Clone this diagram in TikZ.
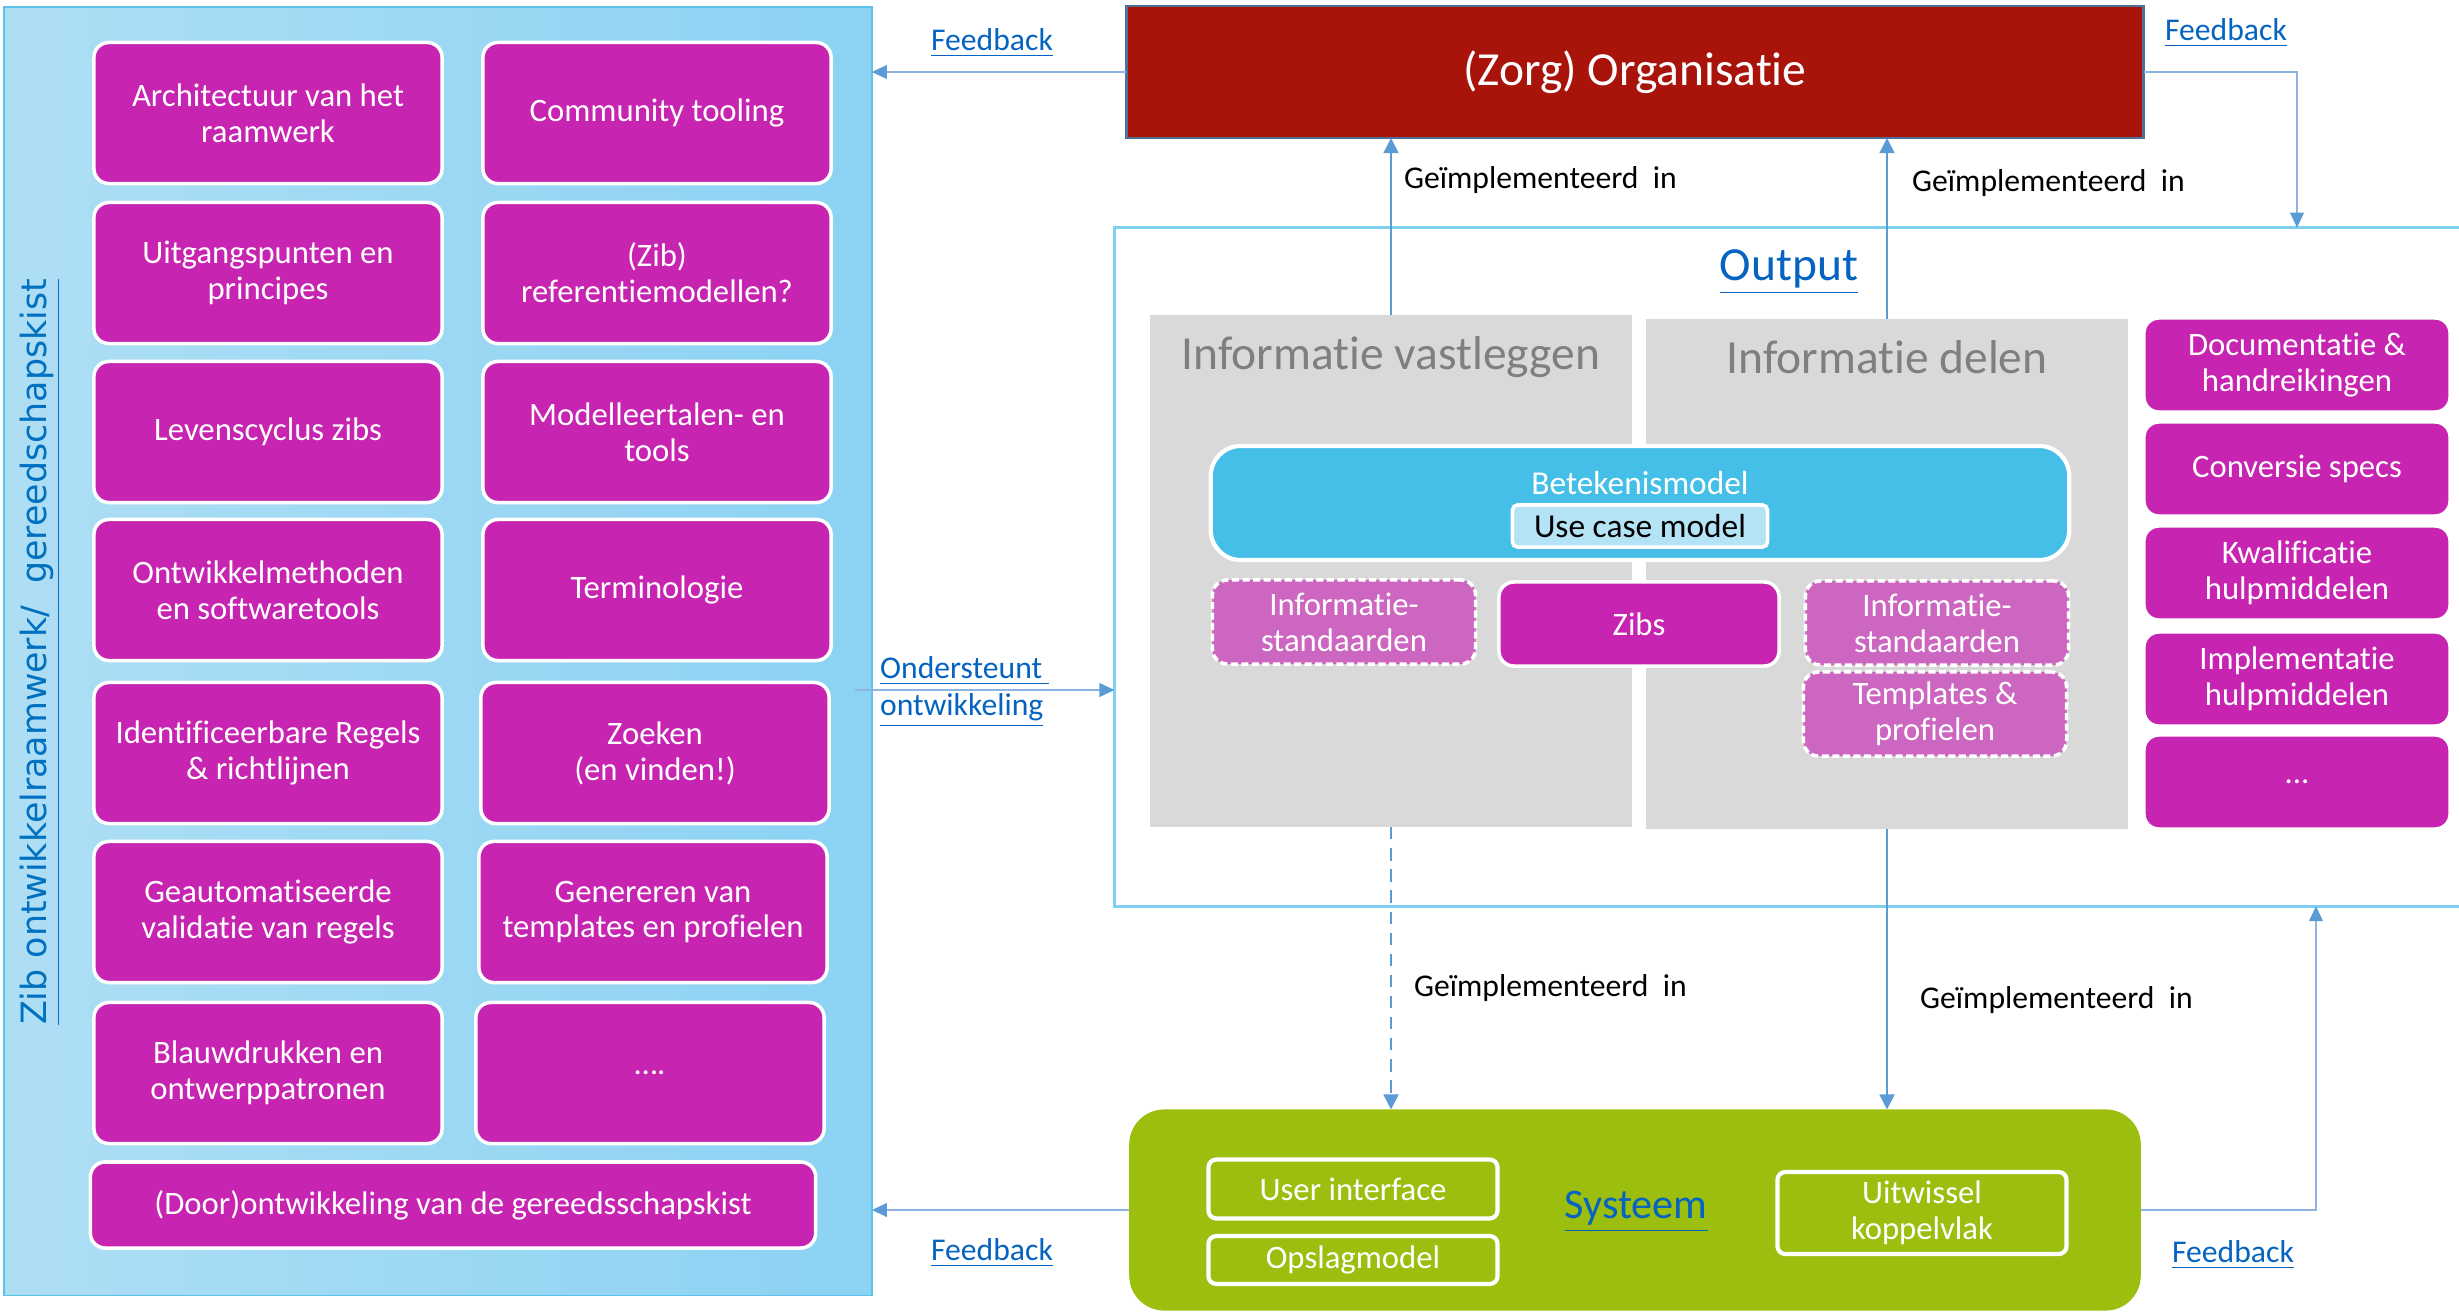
\documentclass[tikz,border=0pt]{standalone}
\usepackage{fontspec}
\setmainfont{Carlito}[Ligatures=NoCommon]
\newfontfamily\kistfont{DejaVu Sans}
\usetikzlibrary{arrows.meta}

\definecolor{zibpink}{HTML}{C724B1}
\definecolor{zibpinklight}{HTML}{CC66C0}
\definecolor{orgred}{HTML}{A8140A}
\definecolor{orgborder}{HTML}{4F6F95}
\definecolor{bmblue}{HTML}{45BFE8}
\definecolor{ucblue}{HTML}{B4E3F5}
\definecolor{panelgrey}{HTML}{D9D9D9}
\definecolor{paneltext}{HTML}{7F7F7F}
\definecolor{sysgreen}{HTML}{9BBE0F}
\definecolor{linkblue}{HTML}{0563C1}
\definecolor{titleblue}{HTML}{0070C0}
\definecolor{lineblue}{HTML}{8DB4E2}
\definecolor{tipblue}{HTML}{5B9BD5}
\definecolor{framecyan}{HTML}{7ED0F0}
\definecolor{kistleft}{HTML}{AEDEF4}
\definecolor{kistright}{HTML}{8BD2F3}
\definecolor{kistborder}{HTML}{5BC3EB}

\tikzset{
  tool/.style={draw=white, line width=1pt, fill=zibpink, rounded corners=0.15cm,
    text=white, align=center, inner sep=1pt, outer sep=0pt,
    minimum width=3.48cm, minimum height=1.41cm,
    font=\fontsize{9.3}{10.2}\selectfont},
  outbox/.style={tool, minimum width=3.06cm, minimum height=0.94cm},
  dashbox/.style={tool, fill=zibpinklight, dashed, dash pattern=on 2pt off 1pt,
    minimum width=2.63cm, minimum height=0.84cm},
  panel/.style={fill=panelgrey, inner sep=0pt, outer sep=0pt},
  paneltitle/.style={text=paneltext, font=\fontsize{13.5}{15}\selectfont},
  sysbox/.style={draw=white, line width=1.2pt, rounded corners=0.08cm, text=white,
    align=center, inner sep=1pt, minimum width=2.89cm,
    font=\fontsize{9.3}{10.2}\selectfont},
  link/.style={text=linkblue, font=\fontsize{9}{10.5}\selectfont, inner sep=1pt},
  impltxt/.style={text=black, font=\fontsize{9}{10.5}\selectfont, anchor=west, inner sep=1pt},
  fbline/.style={draw=lineblue, line width=0.75pt,
    -{Triangle[length=4.3pt, width=3.8pt, color=tipblue]}},
  implline/.style={draw=tipblue, line width=0.5pt,
    -{Triangle[length=4.3pt, width=4.3pt]}}
}

\begin{document}
\begin{tikzpicture}[x=0.01cm, y=-0.01cm]
  \useasboundingbox (0,0) rectangle (2459,1311);

  % gereedschapskist
  \node[draw=kistborder, line width=0.5pt, left color=kistleft, right color=kistright,
    minimum width=8.67cm, minimum height=12.88cm, inner sep=0pt, outer sep=0pt] (kist) at (438,651) {};
  \node[rotate=90, text=titleblue, font=\kistfont\fontsize{9.9}{12}\selectfont] (kisttitel) at (40,652)
    {\underline{Zib ontwikkelraamwerk/\ \ gereedschapskist}};

  \node[tool] (arch) at (268,113) {Architectuur van het\\raamwerk};
  \node[tool] (comm) at (657,113) {Community tooling};
  \node[tool] (uitg) at (268,273) {Uitgangspunten en\\principes};
  \node[tool] (refm) at (657,273) {(Zib)\\referentiemodellen?};
  \node[tool] (leven) at (268,432) {Levenscyclus zibs};
  \node[tool] (mtaal) at (657,432) {Modelleertalen- en\\tools};
  \node[tool] (ontw) at (268,590) {Ontwikkelmethoden\\en softwaretools};
  \node[tool] (term) at (657,590) {Terminologie};
  \node[tool] (regels) at (268,753) {Identificeerbare Regels\\\& richtlijnen};
  \node[tool] (zoek) at (655,753) {Zoeken\\(en vinden!)};
  \node[tool] (valid) at (268,912) {Geautomatiseerde\\validatie van regels};
  \node[tool] (genr) at (653,912) {Genereren van\\templates en profielen};
  \node[tool] (blauw) at (268,1073) {Blauwdrukken en\\ontwerppatronen};
  \node[tool] (meer) at (650,1073) {….};
  \node[tool, minimum width=7.25cm, minimum height=0.86cm] (door) at (453,1205)
    {(Door)ontwikkeling van de gereedsschapskist};

  % organisatie
  \node[draw=orgborder, line width=0.8pt, fill=orgred, text=white,
    minimum width=10.17cm, minimum height=1.32cm, outer sep=0pt,
    font=\fontsize{13.5}{15}\selectfont] (org) at (1635,72) {(Zorg) Organisatie};

  % output
  \node[minimum width=13.44cm, minimum height=6.78cm, inner sep=0pt, outer sep=0pt] (output) at (1787,567) {};
  \draw[framecyan, line width=0.8pt] (output.north east) -- (output.north west)
    -- (output.south west) -- (output.south east);
  \node[link, font=\fontsize{13.5}{15}\selectfont] (outtxt) at (1789,272) {\underline{Output}};

  \node[panel, minimum width=4.82cm, minimum height=5.12cm] (vast) at (1391,571) {};
  \node[panel, minimum width=4.82cm, minimum height=5.10cm] (deel) at (1887,574) {};
  \node[paneltitle] (vasttitel) at (1391,357) {Informatie vastleggen};
  \node[paneltitle] (deeltitel) at (1887,357) {Informatie delen};

  \node[draw=white, line width=1.2pt, fill=bmblue, rounded corners=0.3cm,
    minimum width=8.58cm, minimum height=1.14cm] (bm) at (1640,503) {};
  \node[text=white, font=\fontsize{9.5}{11}\selectfont] (bmtxt) at (1640,483) {Betekenismodel};
  \node[draw=white, line width=1pt, fill=ucblue, rounded corners=0.05cm,
    minimum width=2.55cm, minimum height=0.42cm, inner sep=1pt,
    font=\fontsize{9.5}{11}\selectfont] (uc) at (1640,526) {Use case model};

  \node[dashbox] (stdvast) at (1344,622) {Informatie-\\standaarden};
  \node[tool, minimum width=2.80cm, minimum height=0.84cm] (zibs) at (1639,624) {Zibs};
  \node[dashbox] (stddeel) at (1937,623) {Informatie-\\standaarden};
  \node[dashbox] (templ) at (1935,714) {Templates \&\\profielen};

  \node[outbox] (doc) at (2297,365) {Documentatie \&\\handreikingen};
  \node[outbox] (conv) at (2297,469) {Conversie specs};
  \node[outbox] (kwal) at (2297,573) {Kwalificatie\\hulpmiddelen};
  \node[outbox] (implm) at (2297,679) {Implementatie\\hulpmiddelen};
  \node[outbox] (etc) at (2297,782) {...};

  % systeem
  \node[fill=sysgreen, rounded corners=0.35cm, minimum width=10.11cm, minimum height=2.01cm,
    outer sep=0pt] (sys) at (1635,1210) {};
  \node[link, font=\fontsize{12}{14}\selectfont] (systxt) at (1636,1212) {\underline{Systeem}};
  \node[sysbox, minimum height=0.59cm] (ui) at (1353,1189) {User interface};
  \node[sysbox, minimum height=0.48cm] (opslag) at (1353,1260) {Opslagmodel};
  \node[sysbox, minimum height=0.82cm] (uitw) at (1922,1213) {Uitwissel\\koppelvlak};

  % feedback
  \draw[fbline] (org.west) -- (org.west -| kist.east);
  \node[link] (fborg) at (992,43) {\underline{Feedback}};
  \draw[fbline] (org.east) -| (output.north -| doc.north);
  \node[link] (fbout) at (2226,33) {\underline{Feedback}};
  \draw[fbline] (sys.west) -- (sys.west -| kist.east);
  \node[link] (fbsys) at (992,1253) {\underline{Feedback}};
  \coordinate (fbterug) at (2316,906);
  \draw[fbline] (sys.east) -| (fbterug);
  \node[link] (fbsys2) at (2233,1255) {\underline{Feedback}};

  % ondersteunt
  \coordinate (ondst) at (855,690);
  \draw[fbline] (ondst) -- (ondst -| output.west);
  \node[link, anchor=west, align=left] (ondtxt) at (876,692)
    {\underline{Ondersteunt\ }\\\underline{ontwikkeling}};

  % geimplementeerd in
  \draw[implline] (vast.north) -- (vast.north |- org.south);
  \draw[implline] (deel.north) -- (deel.north |- org.south);
  \draw[implline, dashed, dash pattern=on 3.5pt off 2.5pt] (vast.south) -- (vast.south |- sys.north);
  \draw[implline] (deel.south) -- (deel.south |- sys.north);
  \node[impltxt] (impl1) at (1400,180) {Geïmplementeerd~ in};
  \node[impltxt] (impl2) at (1908,183) {Geïmplementeerd~ in};
  \node[impltxt] (impl3) at (1410,988) {Geïmplementeerd~ in};
  \node[impltxt] (impl4) at (1916,1000) {Geïmplementeerd~ in};
\end{tikzpicture}
\end{document}
